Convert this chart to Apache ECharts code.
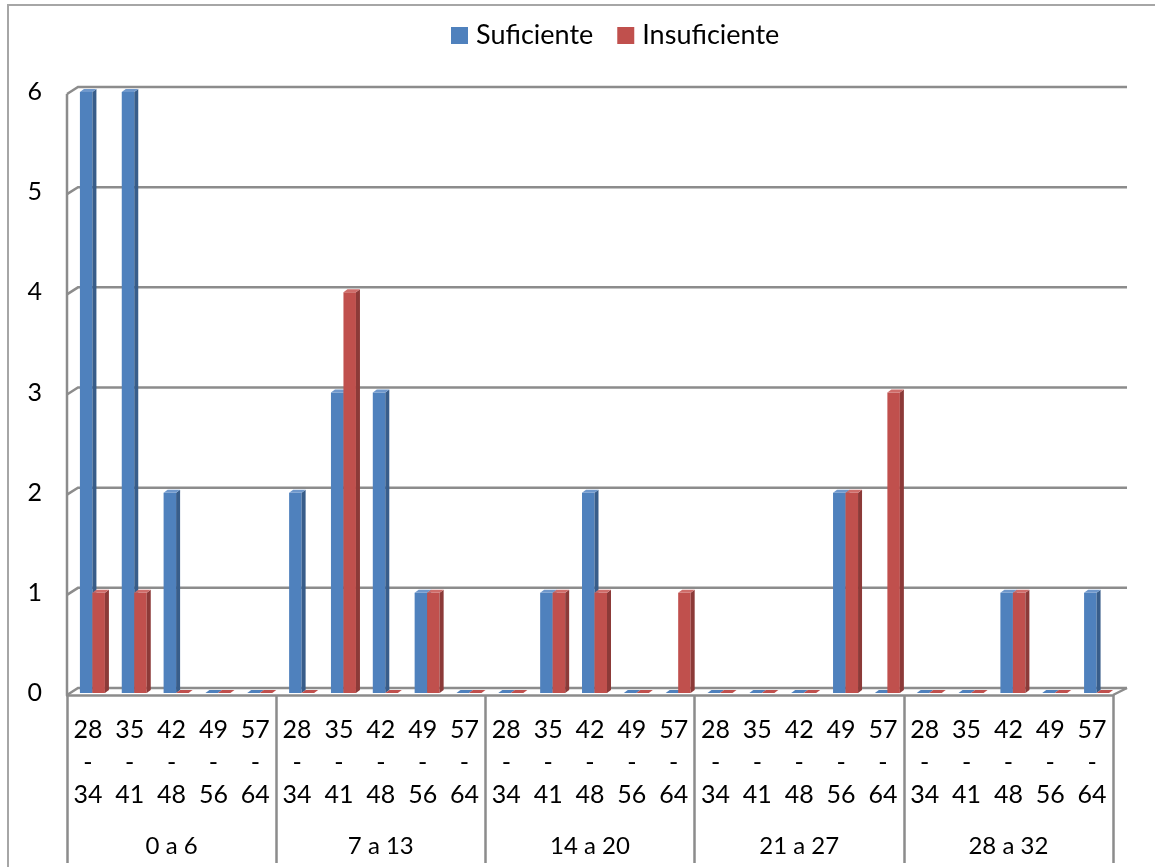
<!DOCTYPE html>
<html>
<head>
<meta charset="utf-8">
<script src="https://cdn.jsdelivr.net/npm/echarts@6/dist/echarts.min.js"></script>
<style>
html,body{margin:0;padding:0;background:#fff;}
#c{width:1155px;height:867px;}
</style>
</head>
<body>
<div id="c"></div>
<script>
// ---- data ----
const groups = ["0 a 6", "7 a 13", "14 a 20", "21 a 27", "28 a 32"];
const ageRanges = ["28\n-\n34", "35\n-\n41", "42\n-\n48", "49\n-\n56", "57\n-\n64"];
const suficiente = [6, 6, 2, 0, 0,  2, 3, 3, 1, 0,  0, 1, 2, 0, 0,  0, 0, 0, 2, 0,  0, 0, 1, 0, 1];
const insuficiente = [1, 1, 0, 0, 0,  0, 4, 0, 1, 0,  0, 1, 1, 0, 1,  0, 0, 0, 2, 3,  0, 0, 1, 0, 0];
const yTicks = [0, 1, 2, 3, 4, 5, 6];
const seriesNames = ["Suficiente", "Insuficiente"];

const categories = [];
groups.forEach(() => ageRanges.forEach(a => categories.push(a)));

const FONT = "Lato";
const GRAY = "#8c8c8c";
const palette = [
  { front: "#4F81BD", side: "#385D8A", top: "#6F98CC" },
  { front: "#C0504D", side: "#8C3A38", top: "#CF6D6A" }
];

function barRenderer(sIdx) {
  return function (params, api) {
    const i = api.value(0);
    const v = api.value(1);
    const base = api.coord([i, 0]);
    const tp = api.coord([i, v]);
    const bw = 12.5, dx = 4, dy = 3, shift = 4.5;
    const x0 = base[0] + shift - bw + sIdx * bw;
    const x1 = x0 + bw;
    const y0 = base[1];
    const y1 = tp[1];
    const c = palette[sIdx];
    const children = [];
    if (v > 0) {
      children.push({ type: 'rect', shape: { x: x0, y: y1, width: bw, height: y0 - y1 }, style: { fill: c.front } });
      children.push({ type: 'polygon', shape: { points: [[x1, y1], [x1 + dx, y1 - dy], [x1 + dx, y0 - dy], [x1, y0]] }, style: { fill: c.side } });
    }
    children.push({ type: 'polygon', shape: { points: [[x0, y1], [x1, y1], [x1 + dx, y1 - dy], [x0 + dx, y1 - dy]] }, style: { fill: v > 0 ? c.top : c.front } });
    return { type: 'group', children: children };
  };
}

function wallRenderer(params, api) {
  const v = api.value(1);
  const cs = params.coordSys;
  const y = api.coord([0, v])[1];
  const left = cs.x, right = cs.x + cs.width;
  const ls = { stroke: GRAY, lineWidth: 2.5, fill: null };
  const children = [
    { type: 'polyline', shape: { points: [[left, y + 2], [left + 11, y - 5], [right + 14, y - 5]] }, style: ls }
  ];
  if (v === 0) {
    children.push({ type: 'line', shape: { x1: right, y1: y + 2, x2: right + 14, y2: y - 5 }, style: ls });
    children.push({ type: 'line', shape: { x1: left, y1: y + 2, x2: left, y2: cs.y + 2 }, style: ls });
  }
  return { type: 'group', children: children };
}

const chart = echarts.init(document.getElementById('c'), null, { renderer: 'canvas' });
chart.setOption({
  backgroundColor: '#ffffff',
  animation: false,
  textStyle: { fontFamily: FONT },
  legend: {
    data: seriesNames,
    left: 446, top: 17,
    icon: 'rect', itemWidth: 17, itemHeight: 17, itemGap: 24,
    textStyle: { fontFamily: FONT, fontSize: 27, color: '#000', padding: [0, 0, 0, 3] }
  },
  grid: { left: 67, right: 42, top: 92, bottom: 174 },
  xAxis: [
    {
      type: 'category', data: categories, gridIndex: 0,
      axisLine: { show: false }, axisTick: { show: false },
      axisLabel: { interval: 0, fontFamily: FONT, fontSize: 25, lineHeight: 32.5, margin: 21, color: '#000', align: 'center' }
    },
    {
      type: 'category', data: groups, gridIndex: 0, position: 'bottom', offset: 2,
      axisLine: { show: true, lineStyle: { color: GRAY, width: 2.5 } },
      axisTick: { show: true, interval: 0, length: 168, lineStyle: { color: GRAY, width: 2.5 } },
      axisLabel: { interval: 0, fontFamily: FONT, fontSize: 24, margin: 139, color: '#000' }
    }
  ],
  yAxis: {
    type: 'value', min: 0, max: 6, interval: 1,
    axisLine: { show: false }, axisTick: { show: false }, splitLine: { show: false },
    axisLabel: { fontFamily: FONT, fontSize: 25, color: '#000', margin: 25, padding: [8, 0, 0, 0] }
  },
  graphic: [
    { type: 'polyline', silent: true, shape: { points: [[8, 867], [8, 5], [1155, 5]] }, style: { stroke: '#a6a6a6', lineWidth: 2, fill: null } }
  ],
  series: [
    {
      type: 'custom', name: 'wall', z: 1, silent: true,
      data: yTicks.map(v => [0, v]),
      encode: { x: 0, y: 1 },
      renderItem: wallRenderer
    },
    {
      type: 'custom', name: seriesNames[0], z: 2,
      itemStyle: { color: palette[0].front },
      data: suficiente.map((v, i) => [i, v]),
      encode: { x: 0, y: 1 },
      renderItem: barRenderer(0)
    },
    {
      type: 'custom', name: seriesNames[1], z: 3,
      itemStyle: { color: palette[1].front },
      data: insuficiente.map((v, i) => [i, v]),
      encode: { x: 0, y: 1 },
      renderItem: barRenderer(1)
    }
  ]
});
</script>
</body>
</html>
